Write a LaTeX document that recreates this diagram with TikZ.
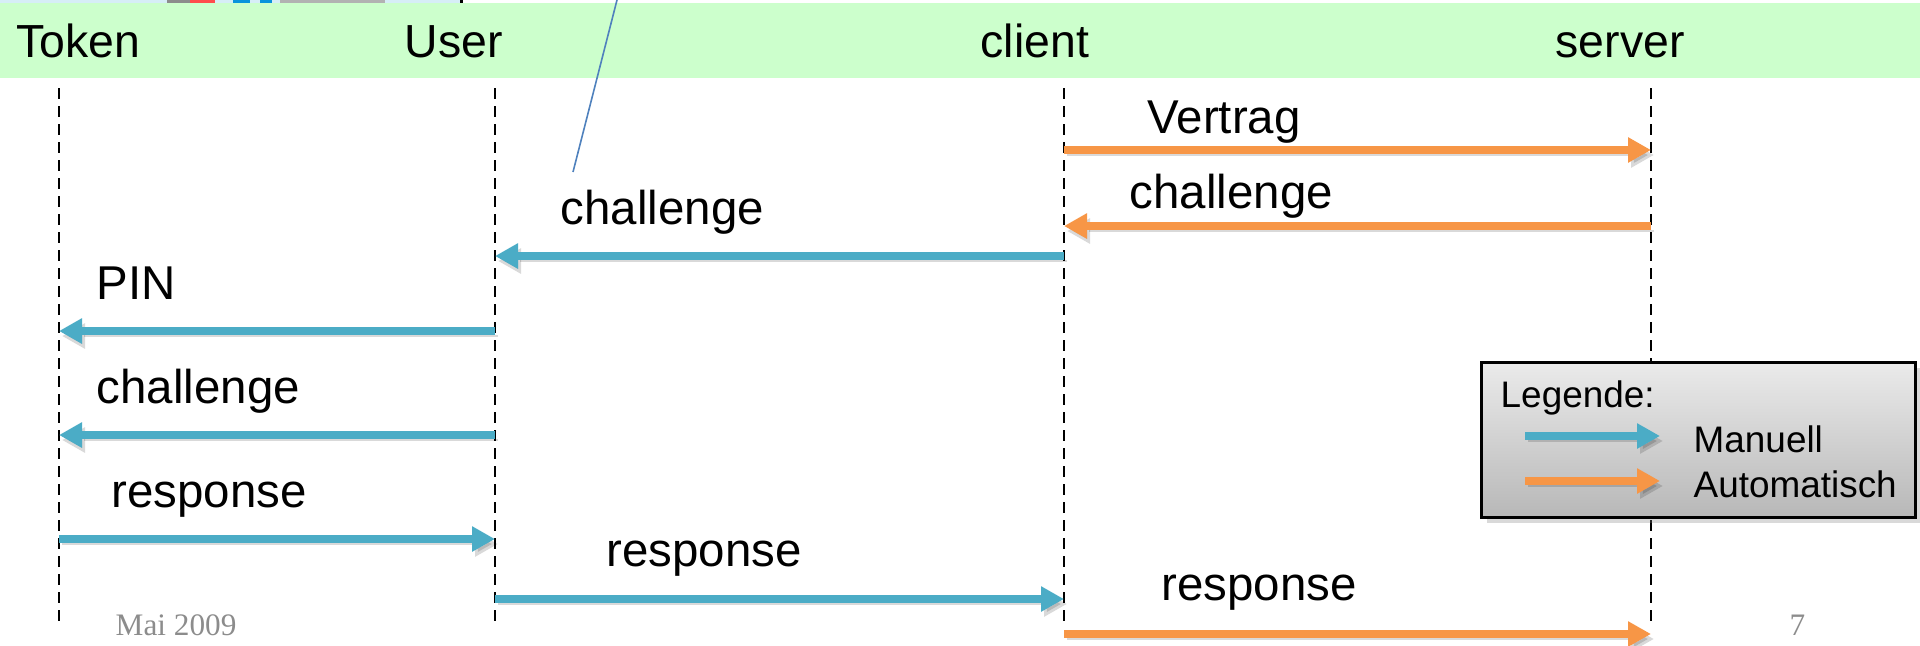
\documentclass[tikz,border=0pt]{standalone}
\usepackage{fontspec}
\setmainfont{Liberation Sans}
\newfontfamily\footfont{Liberation Serif}
\usetikzlibrary{arrows.meta,shadows}
\definecolor{manblue}{HTML}{4BACC6}
\definecolor{autoorange}{HTML}{F79646}
\definecolor{bandgreen}{HTML}{CCFFCC}
\definecolor{noteblue}{HTML}{4F81BD}
\definecolor{stripblue}{HTML}{D6EEF6}
\def\lblsize{\fontsize{13.5}{16}\selectfont}

\begin{document}
\begin{tikzpicture}[x=0.1mm,y=-0.1mm,
    head/.style={inner sep=0pt, anchor=base west, font=\fontsize{13.2}{16}\selectfont},
    lbl/.style={inner sep=0pt, anchor=base west, font=\lblsize},
    legtext/.style={inner sep=0pt, anchor=base west, font=\fontsize{10.5}{12}\selectfont},
    foot/.style={inner sep=0pt, anchor=base west, text=black!45, font=\footfont\fontsize{8.9}{10}\selectfont},
    lifeline/.style={dash pattern=on 1.1mm off 0.7mm, line width=0.22mm},
    msg/.style={line width=0.75mm, -{Triangle[length=2.3mm,width=2.4mm]},
        preaction={draw=black, opacity=0.15, transform canvas={shift={(0.3mm,-0.5mm)}}}},
    manual/.style={msg, draw=manblue},
    automatic/.style={msg, draw=autoorange},
    legendbox/.style={draw=black, line width=0.25mm, top color=black!8, bottom color=black!28,
        drop shadow={opacity=0.3, shadow xshift=0.6mm, shadow yshift=-0.6mm},
        minimum width=43.4mm, minimum height=15.5mm, inner sep=0pt}]
    \useasboundingbox (0,0) rectangle (1920,645);

    % cut-off picture at the top edge
    \fill[stripblue] (0,0) rectangle (460,2.5);
    \fill[black!45] (167,0) rectangle (190,2.5);
    \fill[red!70] (190,0) rectangle (215,2.5);
    \fill[cyan!80!blue] (233,0) rectangle (250,2.5);
    \fill[cyan!80!blue] (260,0) rectangle (272,2.5);
    \fill[black!30] (280,0) rectangle (385,2.5);
    \fill[black] (460,0) rectangle (463,2.5);

    % header band
    \fill[bandgreen] (0,2.5) rectangle (1920,78);
    \node[head] (token)  at (16,57)   {Token};
    \node[head] (user)   at (404,57)  {User};
    \node[head] (client) at (980,57)  {client};
    \node[head] (server) at (1555,57) {server};

    % lifelines
    \coordinate (tokTop) at (59,88);   \coordinate (tokBot) at (59,625);
    \coordinate (usrTop) at (495,88);  \coordinate (usrBot) at (495,625);
    \coordinate (cliTop) at (1064,88); \coordinate (cliBot) at (1064,625);
    \coordinate (srvTop) at (1651,88); \coordinate (srvBot) at (1651,625);
    \draw[lifeline] (tokTop) -- (tokBot);
    \draw[lifeline] (usrTop) -- (usrBot);
    \draw[lifeline] (cliTop) -- (cliBot);
    \draw[lifeline] (srvTop) -- (srvBot);

    % message rows
    \coordinate (r1) at (0,150);
    \coordinate (r2) at (0,226);
    \coordinate (r3) at (0,256);
    \coordinate (r4) at (0,331);
    \coordinate (r5) at (0,435);
    \coordinate (r6) at (0,539);
    \coordinate (r7) at (0,599);
    \coordinate (r8) at (0,634);

    \draw[automatic] (cliTop |- r1) -- (srvTop |- r1);
    \draw[automatic] (srvTop |- r2) -- (cliTop |- r2);
    \draw[manual] (cliTop |- r3) -- (usrTop |- r3);
    \draw[manual] (usrTop |- r4) -- (tokTop |- r4);
    \draw[manual] (usrTop |- r5) -- (tokTop |- r5);
    \draw[manual] (tokTop |- r6) -- (usrTop |- r6);
    \draw[manual] (usrTop |- r7) -- (cliTop |- r7);
    \draw[automatic] (cliTop |- r8) -- (srvTop |- r8);

    \node[lbl] (vertrag)   at (1147,133) {Vertrag};
    \node[lbl] (chalSrv)   at (1129,208) {challenge};
    \node[lbl] (chalCli)   at (560,224)  {challenge};
    \node[lbl] (pin)       at (96,299)   {PIN};
    \node[lbl] (chalUsr)   at (96,403)   {challenge};
    \node[lbl] (respTok)   at (111,507)  {response};
    \node[lbl] (respUsr)   at (606,566)  {response};
    \node[lbl] (respCli)   at (1161,600) {response};

    % pointer line into the cut-off picture
    \coordinate (noteEnd) at (573,172);
    \coordinate (noteTop) at (617,0);
    \draw[noteblue, line width=0.16mm] (noteEnd) -- (noteTop);

    % legend
    \node[legendbox, anchor=north west] (legend) at (1480,361) {};
    \node[legtext] (legTitle) at (1500,407) {Legende:};
    \coordinate (lgB1) at (1525,436); \coordinate (lgB2) at (1660,436);
    \coordinate (lgA1) at (1525,481); \coordinate (lgA2) at (1660,481);
    \draw[manual] (lgB1) -- (lgB2);
    \draw[automatic] (lgA1) -- (lgA2);
    \node[legtext] (legMan)  at (1693,452) {Manuell};
    \node[legtext] (legAuto) at (1693,497) {Automatisch};

    % footer
    \node[foot] (date) at (115,635) {Mai 2009};
    \node[foot] (page) at (1789,635) {7};
\end{tikzpicture}
\end{document}
